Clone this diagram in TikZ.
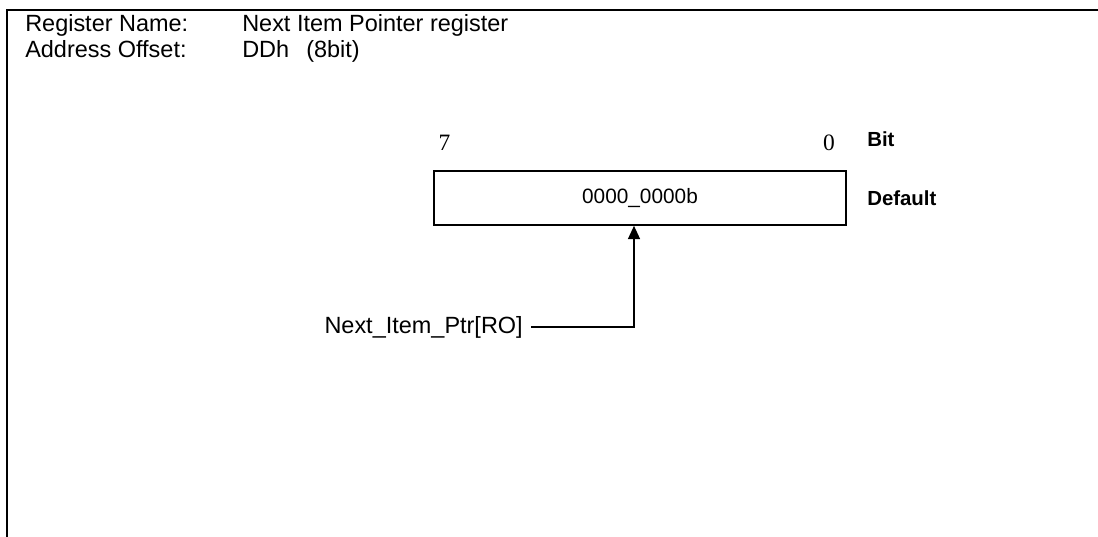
\documentclass[tikz,border=0pt]{standalone}
\usepackage{fontspec}
\setmainfont{Liberation Sans}
\newfontfamily\serifnum{Liberation Serif}
\usetikzlibrary{arrows.meta}
\begin{document}
\begin{tikzpicture}[x=0.75pt,y=-0.75pt,
  lbl/.style={inner sep=0pt,anchor=base west,font=\fontsize{17.6}{20}\selectfont},
  bitnum/.style={inner sep=0pt,font=\serifnum\fontsize{17.6}{20}\selectfont},
  side/.style={inner sep=0pt,anchor=west,font=\bfseries\fontsize{15.3}{17}\selectfont},
  regbox/.style={draw,line width=1.2pt,minimum width=412*0.75pt,minimum height=54*0.75pt,inner sep=0pt,font=\fontsize{15.6}{18}\selectfont},
  conn/.style={line width=1.2pt}]
\useasboundingbox (0,0) rectangle (1098,536);
\draw[line width=1.5pt] (7,537) coordinate (fb) -- (7,10) coordinate (ftl) -- (1099,10) coordinate (ftr);
\node[lbl] (rn) at (25,31) {Register Name:};
\node[lbl] (rnv) at (242,31) {Next Item Pointer register};
\node[lbl] (ao) at (25,57) {Address Offset:};
\node[lbl] (aov) at (242,57) {DDh};
\node[lbl] (aob) at (306,57) {(8bit)};
\node[bitnum] (b7) at (444.5,143) {7};
\node[bitnum] (b0) at (829,143) {0};
\node[side] (bit) at (867,139) {Bit};
\node[regbox] (reg) at (640,198) {0000\_0000b};
\node[side] (def) at (867,198) {Default};
\node[lbl,anchor=east] (ptr) at (523,327) {Next\_Item\_Ptr[RO]};
\coordinate (corner) at (634,327);
\draw[conn,-{Triangle[length=10pt,width=9pt]}] (ptr.east) ++(8,0) -- (corner) -- (corner |- reg.south);
\end{tikzpicture}
\end{document}
